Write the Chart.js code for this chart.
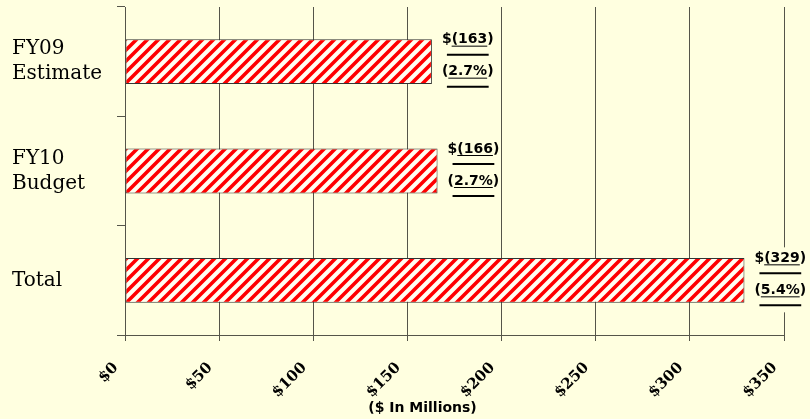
<!DOCTYPE html>
<html>
<head>
<meta charset="utf-8">
<script src="https://cdn.jsdelivr.net/npm/chart.js@4"></script>
<style>
  body { margin: 0; background: #FFFFE0; }
  #wrap { width: 810px; height: 419px; }
</style>
</head>
<body>
<div id="wrap"><canvas id="gapChart" width="810" height="419"></canvas></div>
<script>
// datos del grafico
const categories = [['FY09', 'Estimate'], ['FY10', 'Budget'], 'Total'];
const amounts = [163, 166, 329];
const amountLabels = ['$(163)', '$(166)', '$(329)'];
const pctLabels = ['(2.7%)', '(2.7%)', '(5.4%)'];
const tickValues = [0, 50, 100, 150, 200, 250, 300, 350];
const axisTitle = '($ In Millions)';

const bg = '#FFFFE0';
const gridColor = '#55554a';

// patron de rayas diagonales rojas
function stripePattern() {
  const s = 11;
  const c = document.createElement('canvas');
  c.width = s; c.height = s;
  const g = c.getContext('2d');
  g.fillStyle = '#FFFFF2';
  g.fillRect(0, 0, s, s);
  g.strokeStyle = '#FF0000';
  g.lineWidth = 3.6;
  g.beginPath();
  g.moveTo(-1, s + 1); g.lineTo(s + 1, -1);
  g.moveTo(-2, 2); g.lineTo(2, -2);
  g.moveTo(s - 2, s + 2); g.lineTo(s + 2, s - 2);
  g.stroke();
  return g.createPattern(c, 'repeat');
}

// etiquetas con subrayado al lado de cada barra
const barLabels = {
  id: 'barLabels',
  afterDatasetsDraw(chart) {
    const ctx = chart.ctx;
    const meta = chart.getDatasetMeta(0);
    ctx.save();
    ctx.font = 'bold 14px "DejaVu Sans"';
    ctx.textBaseline = 'middle';
    ctx.textAlign = 'left';
    meta.data.forEach((bar, i) => {
      const x0 = bar.x + 10;
      const yc = bar.y;
      const rows = [amountLabels[i], pctLabels[i]];
      const w = Math.max(...rows.map(t => ctx.measureText(t).width));
      ctx.fillStyle = bg;
      ctx.fillRect(x0 - 1, yc - 33, w + 2, 65);
      rows.forEach((t, r) => {
        const ty = yc + (r === 0 ? -22 : 10);
        const ly = yc + (r === 0 ? -7 : 25);
        ctx.fillStyle = '#000';
        ctx.fillText(t, x0, ty);
        // subrayado simple del centro del texto
        const ux1 = x0 + ctx.measureText(t.slice(0, 1)).width;
        const ux2 = x0 + ctx.measureText(t.slice(0, t.length - 1)).width;
        ctx.strokeStyle = '#000';
        ctx.lineWidth = 1;
        ctx.beginPath();
        ctx.moveTo(ux1, ty + 6.5); ctx.lineTo(ux2, ty + 6.5);
        ctx.stroke();
        // linea gruesa debajo
        ctx.lineWidth = 2;
        ctx.beginPath();
        ctx.moveTo(x0 + 5, ly); ctx.lineTo(x0 + w - 5, ly);
        ctx.stroke();
      });
    });
    ctx.restore();
  }
};

// titulo del eje x
const xTitle = {
  id: 'xTitle',
  afterDraw(chart) {
    const ctx = chart.ctx;
    const a = chart.chartArea;
    ctx.save();
    ctx.font = 'bold 14px "DejaVu Sans"';
    ctx.fillStyle = '#000';
    ctx.textAlign = 'center';
    ctx.textBaseline = 'middle';
    ctx.fillText(axisTitle, (a.left + a.right) / 2 - 32, 408);
    ctx.restore();
  }
};

const ctx = document.querySelector('#gapChart').getContext('2d');
const gapChart = new Chart(ctx, {
  type: 'bar',
  data: {
    labels: categories,
    datasets: [{
      data: amounts,
      backgroundColor: stripePattern(),
      borderColor: '#333333',
      borderWidth: 1,
      borderSkipped: false,
      categoryPercentage: 1,
      barPercentage: 0.41
    }]
  },
  options: {
    indexAxis: 'y',
    responsive: false,
    animation: false,
    layout: { padding: { left: 12, top: 7, right: 26, bottom: 0 } },
    plugins: {
      legend: { display: false },
      tooltip: { enabled: false }
    },
    scales: {
      x: {
        min: 0,
        max: 350,
        afterBuildTicks: (scale) => {
          scale.ticks = tickValues.map(v => ({ value: v }));
        },
        afterFit: (scale) => {
          scale.height = 84;
          scale.paddingLeft = 0;
          scale.paddingRight = 0;
        },
        grid: { color: gridColor, tickLength: 6, lineWidth: 1 },
        border: { color: gridColor },
        ticks: {
          callback: (v) => '$' + v,
          minRotation: 45,
          maxRotation: 45,
          padding: 18,
          labelOffset: -9,
          color: '#000',
          font: { family: '"DejaVu Serif"', size: 15, weight: 'bold' }
        }
      },
      y: {
        afterFit: (scale) => {
          scale.width = 113;
          scale.paddingTop = 0;
          scale.paddingBottom = 0;
        },
        grid: { drawOnChartArea: false, color: gridColor, tickLength: 8, offset: true },
        border: { color: gridColor },
        ticks: {
          crossAlign: 'far',
          color: '#000',
          font: { family: '"DejaVu Serif"', size: 20, lineHeight: 1.25 }
        }
      }
    }
  },
  plugins: [barLabels, xTitle]
});
</script>
</body>
</html>
